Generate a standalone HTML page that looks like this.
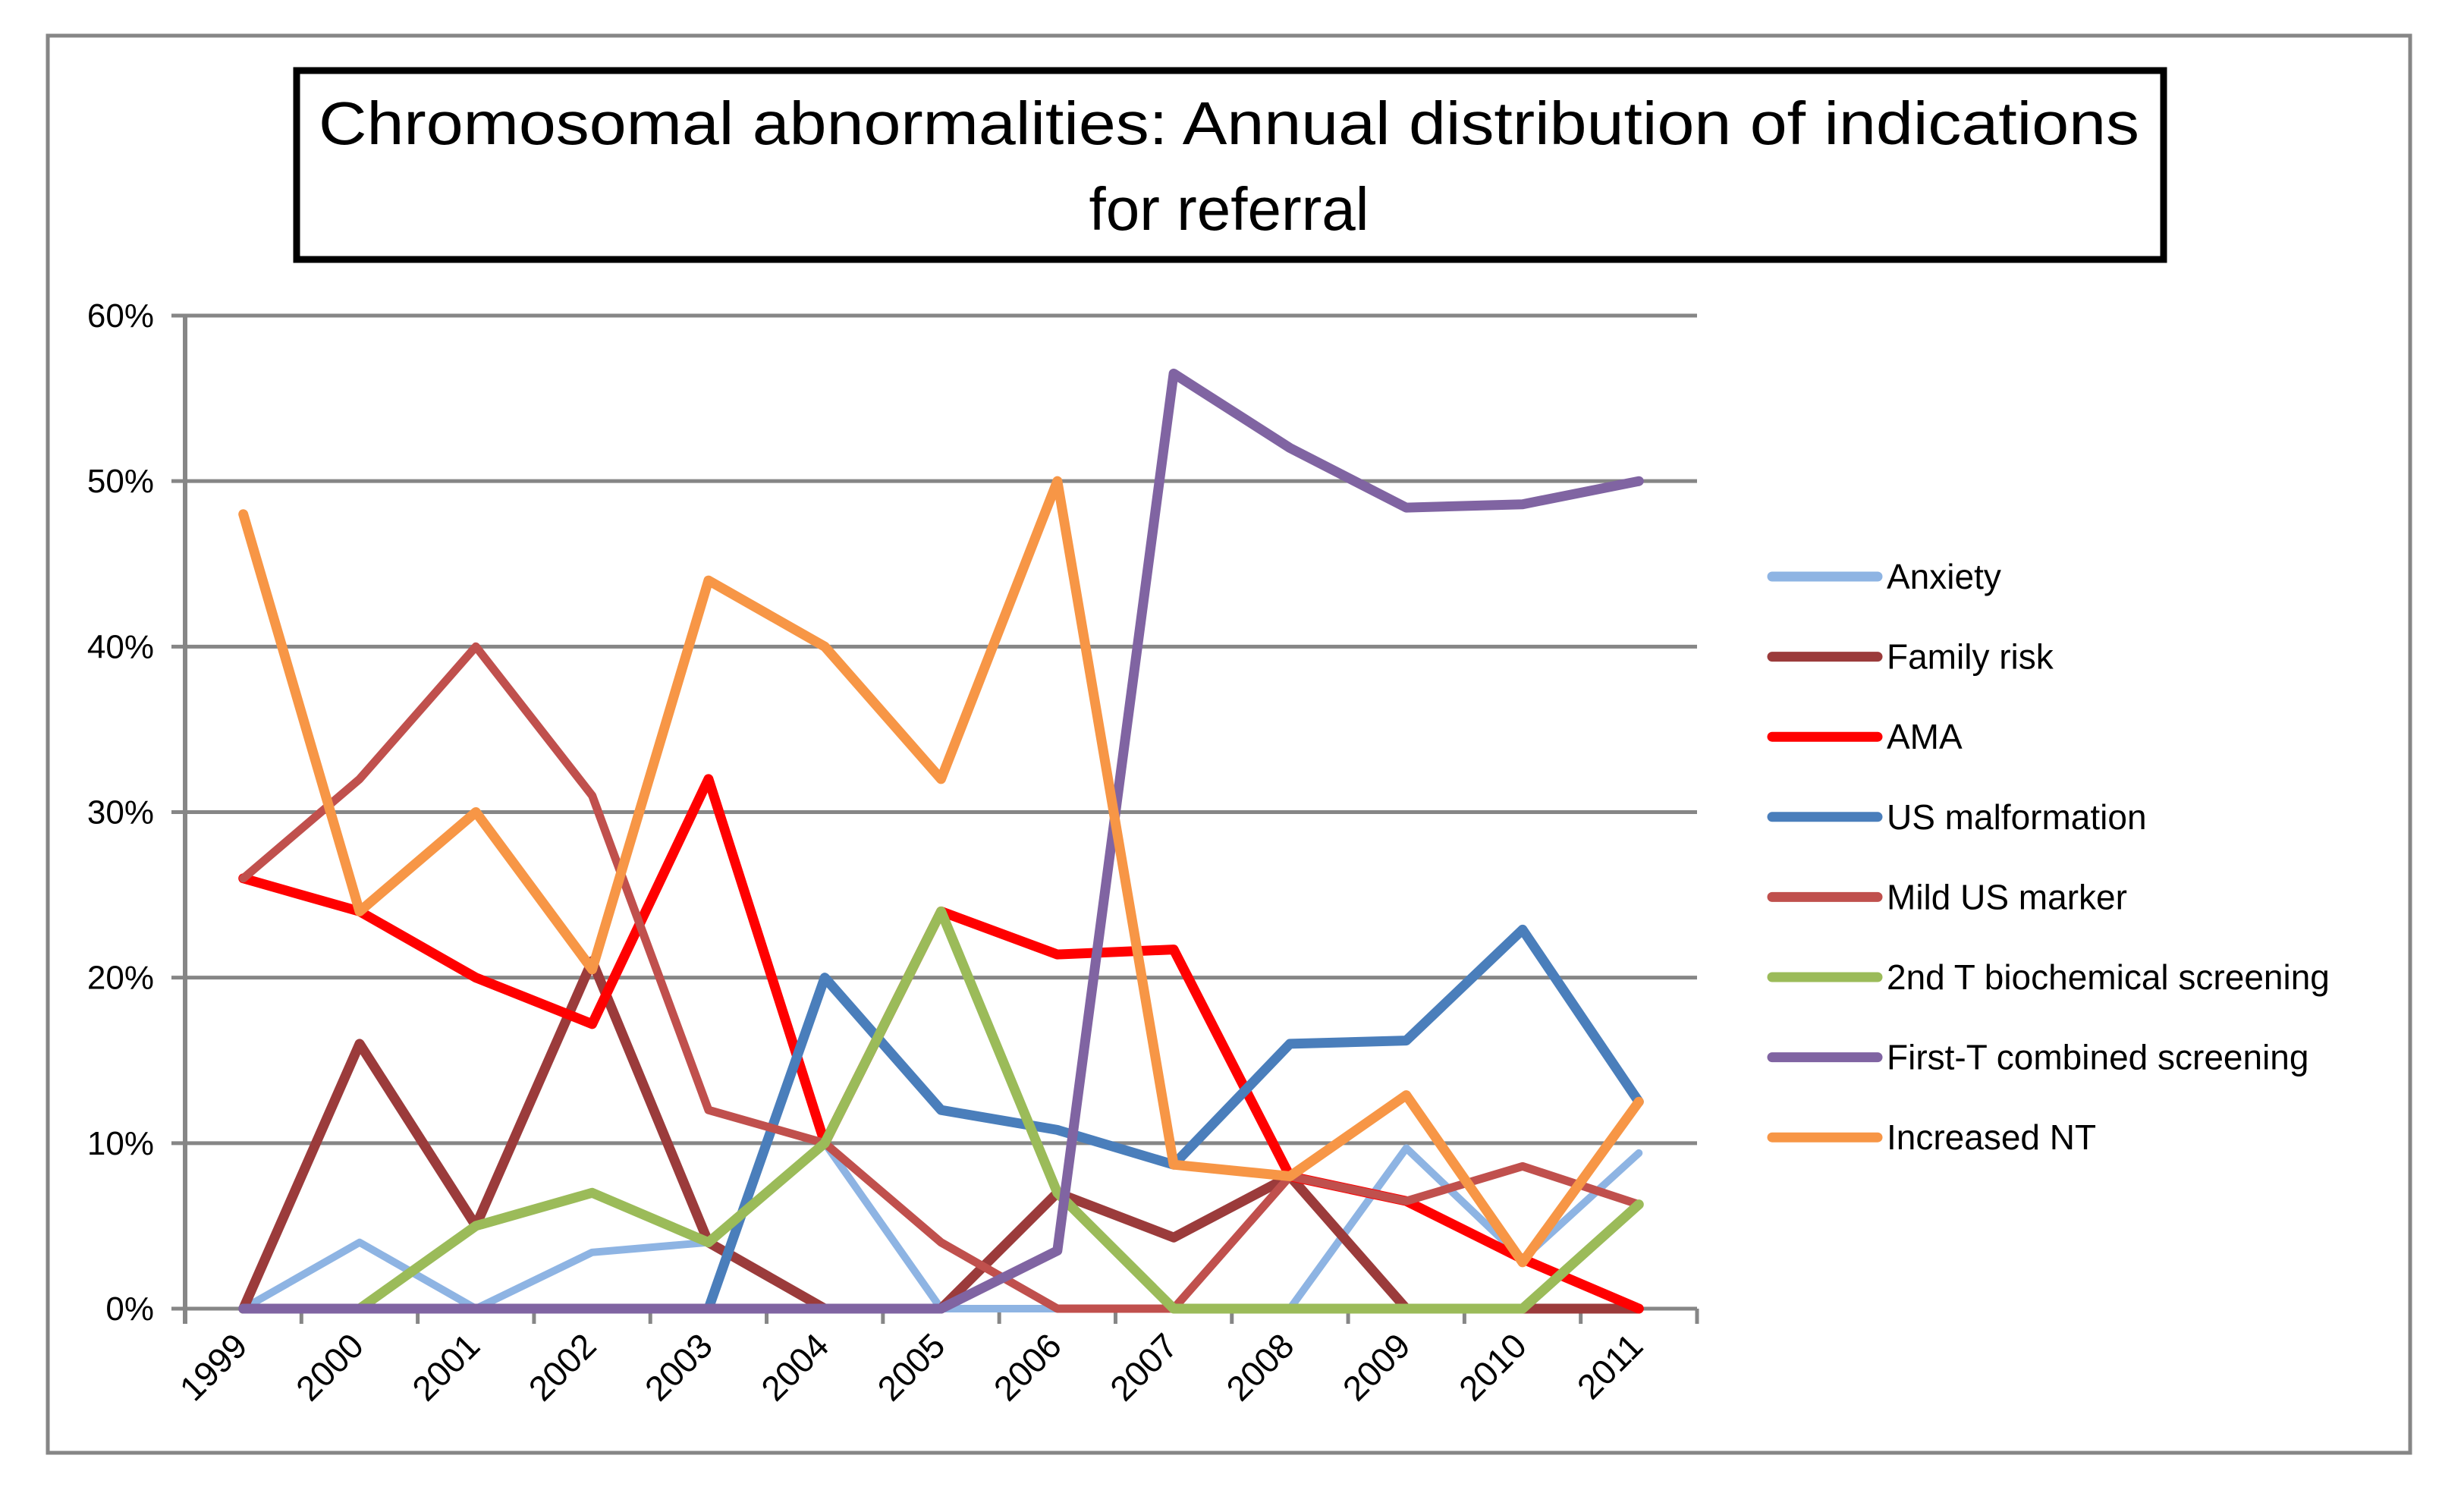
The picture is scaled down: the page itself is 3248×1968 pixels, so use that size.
<!DOCTYPE html>
<html><head><meta charset="utf-8"><style>
html,body{margin:0;padding:0;background:#fff;}
svg{display:block;font-family:"Liberation Sans","DejaVu Sans",sans-serif;}
</style></head><body>
<svg id="chart" width="3248" height="1968" viewBox="0 0 3248 1968" xmlns="http://www.w3.org/2000/svg">
<rect x="63" y="47" width="3114" height="1868" fill="#fff" stroke="#868686" stroke-width="5"/>
<rect x="391" y="93" width="2461" height="249" fill="#fff" stroke="#000" stroke-width="9"/>
<text x="1620" y="190" font-size="80" text-anchor="middle" textLength="2400" lengthAdjust="spacingAndGlyphs">Chromosomal abnormalities: Annual distribution of indications</text>
<text x="1620" y="303" font-size="80" text-anchor="middle">for referral</text>
<g id="grid"></g><g id="axes"></g><g id="series"></g><g id="legend"></g>
</svg>
<script>
const years = ["1999","2000","2001","2002","2003","2004","2005","2006","2007","2008","2009","2010","2011"];
const yTicks = [0,10,20,30,40,50,60];
const seriesNames = ["Anxiety","Family risk","AMA","US malformation","Mild US marker","2nd T biochemical screening","First-T combined screening","Increased NT"];
const anxiety = [0,4,0,3.4,4,10,0,0,0,0,9.7,3,9.4];
const familyRisk = [0,16,5,21,4,0,0,7,4.3,8,0,0,0];
const ama = [26,24,20,17.2,32,10,24,21.4,21.7,8,6.5,3,0];
const usMalformation = [0,0,0,0,0,20,12,10.8,8.7,16,16.2,22.9,12.5];
const mildUsMarker = [26,32,40,31,12,10,4,0,0,8,6.5,8.6,6.3];
const secondTBiochem = [0,0,5,7,4,10,24,7,0,0,0,0,6.3];
const firstTCombined = [0,0,0,0,0,0,0,3.5,56.5,52,48.4,48.6,50];
const increasedNT = [48,24,30,20.5,44,40,32,50,8.7,8,12.9,2.8,12.5];
const seriesColors = ["#8EB4E3","#9B3B3B","#FF0000","#4A7EBB","#C0504D","#9BBB59","#8064A2","#F79646"];
const seriesData = [anxiety,familyRisk,ama,usMalformation,mildUsMarker,secondTBiochem,firstTCombined,increasedNT];
const seriesKeys = ["anxiety","family-risk","ama","us-malformation","mild-us-marker","2nd-t-biochemical","first-t-combined","increased-nt"];

const NS="http://www.w3.org/2000/svg";
const X0=244,X1=2237,YT=416,YB=1725,YMAX=60;
const cw=(X1-X0)/years.length;
const xs=i=>X0+cw*(i+0.5);
const ys=v=>YB-(v/YMAX)*(YB-YT);
function mk(tag,attrs,parent){const e=document.createElementNS(NS,tag);for(const k in attrs)e.setAttribute(k,attrs[k]);parent.appendChild(e);return e;}
const grid=document.getElementById('grid'),axes=document.getElementById('axes'),ser=document.getElementById('series'),leg=document.getElementById('legend');

yTicks.forEach(t=>{
  const y=ys(t);
  const l=mk('line',{x1:X0-18,x2:X1,y1:y,y2:y,stroke:'#868686','stroke-width':5},grid);
  
  
  const tx=mk('text',{x:203,y:y+15,'font-size':44,'text-anchor':'end'},axes);
  tx.textContent=t+'%';
  
  
});
const ya=mk('line',{x1:X0,x2:X0,y1:YT,y2:YB+20,stroke:'#868686','stroke-width':6},axes);


for(let i=0;i<=years.length;i++){
  const x=X0+cw*i;
  const tk=mk('line',{x1:x,x2:x,y1:YB,y2:YB+20,stroke:'#868686','stroke-width':5},axes);
  
  
}
years.forEach((yr,i)=>{
  const x=xs(i)+8,y=YB+52;
  const t=mk('text',{x:x,y:y,'font-size':46,'text-anchor':'end',transform:`rotate(-45 ${x} ${y})`},axes);
  t.textContent=yr;
  
  
});
seriesData.forEach((d,s)=>{
  const pts=d.map((v,i)=>xs(i).toFixed(1)+','+ys(v).toFixed(1)).join(' ');
  const p=mk('polyline',{points:pts,fill:'none',stroke:seriesColors[s],'stroke-width':s===0?10:(s===4?11:13),'stroke-linejoin':'round','stroke-linecap':'round'},ser);
  
  
  const ly=760+s*105.6;
  const ll=mk('line',{x1:2336,x2:2475,y1:ly,y2:ly,stroke:seriesColors[s],'stroke-width':13,'stroke-linecap':'round'},leg);
  
  
  const lt=mk('text',{x:2487,y:ly+16,'font-size':46},leg);
  lt.textContent=seriesNames[s];
  
  
});
</script>
</body></html>
